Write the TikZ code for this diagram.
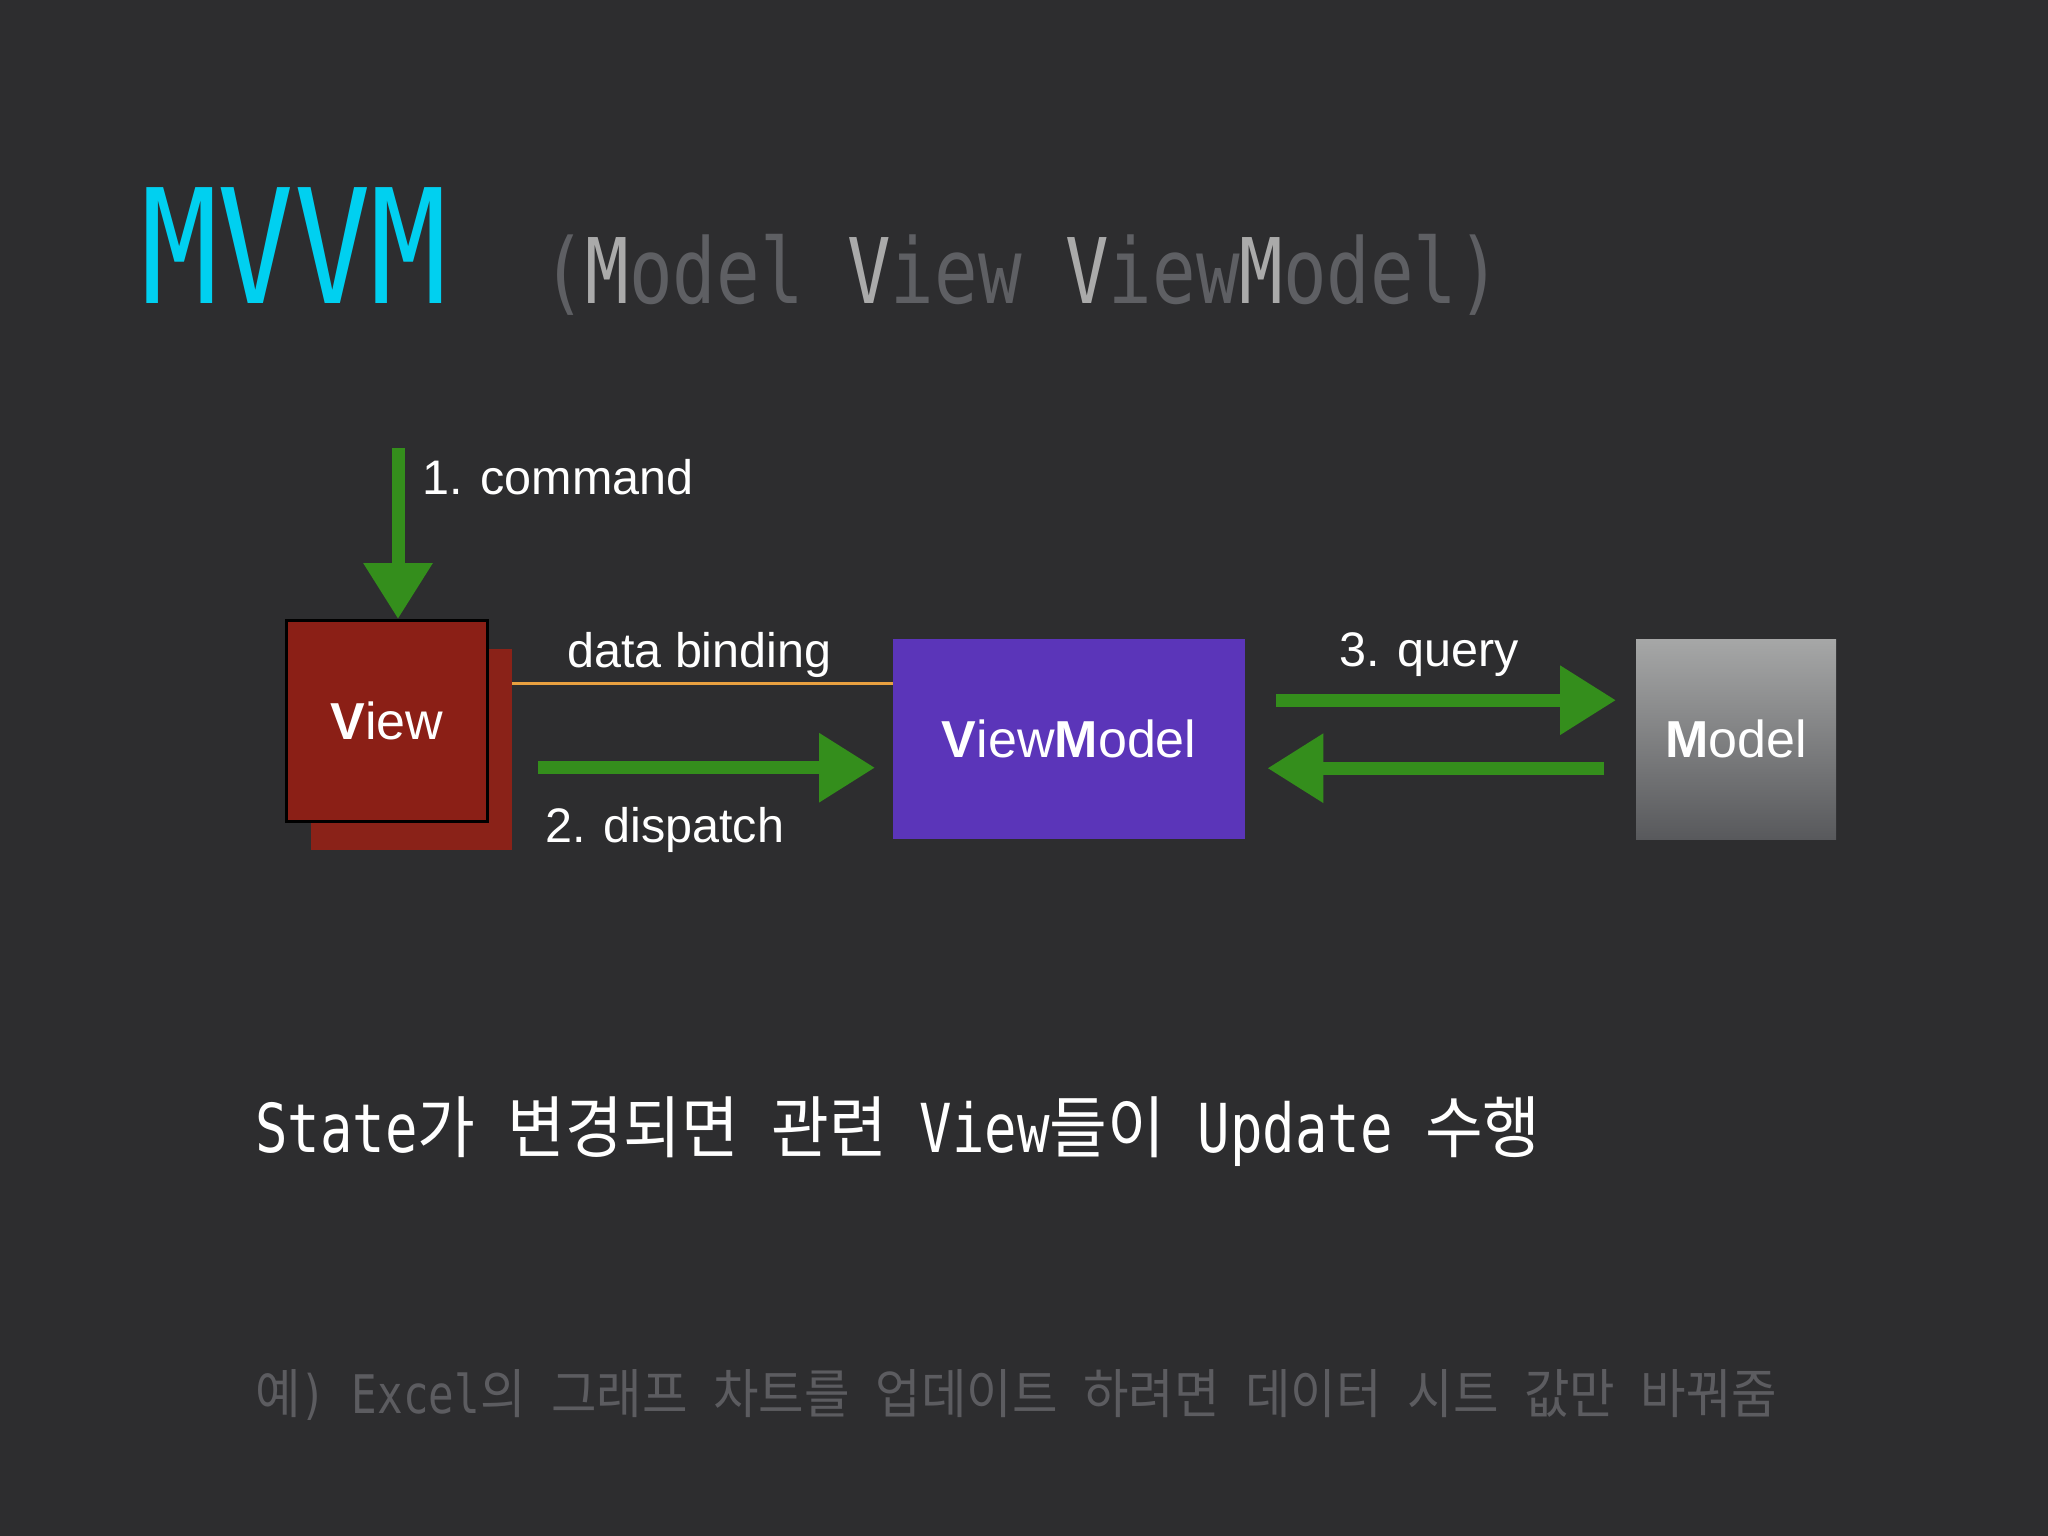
\documentclass[tikz,border=0pt]{standalone}
\usepackage{fontspec}
\setmainfont{Liberation Sans}
\newfontfamily\monof[FakeStretch=0.8]{DejaVu Sans Mono}
\newfontfamily\krf[FakeStretch=0.93]{Noto Sans CJK KR}
\newcommand{\K}[1]{{\krf #1}}
\newcommand{\Lt}[1]{\textcolor{titlelight}{#1}}
\usetikzlibrary{arrows.meta}
\definecolor{bgc}{RGB}{45,45,47}
\definecolor{cyanc}{RGB}{0,208,240}
\definecolor{titlelight}{RGB}{170,170,170}
\definecolor{titledark}{RGB}{94,95,99}
\definecolor{viewred}{RGB}{139,31,22}
\definecolor{viewredb}{RGB}{138,34,24}
\definecolor{vmpurple}{RGB}{91,53,185}
\definecolor{mtop}{RGB}{166,167,167}
\definecolor{mbot}{RGB}{88,89,92}
\definecolor{orangec}{RGB}{232,160,64}
\definecolor{grn}{RGB}{52,142,28}
\definecolor{notegray}{RGB}{92,92,96}
\tikzset{
  boxnode/.style={rectangle, inner sep=0pt, text=white, font=\fontsize{52}{52}\selectfont},
  lbl/.style={anchor=base west, inner sep=0pt, text=white, font=\fontsize{48.5}{48.5}\selectfont},
  greenarrow/.style={draw=grn, line width=13pt, -{Triangle[length=56pt,width=66pt]}},
  bindline/.style={draw=orangec, line width=3.5pt},
}
\begin{document}
\begin{tikzpicture}[x=1pt,y=-1pt]
\fill[bgc] (0,0) rectangle (2048,1536);
\useasboundingbox (0,0) rectangle (2048,1536);

% title
\node[anchor=base west, inner sep=0pt, text=cyanc] (title) at (141,303)
  {\fontsize{159}{159}\selectfont\monof MVVM};
\node[anchor=base west, inner sep=0pt, text=titledark] (subtitle) at (542,303)
  {\fontsize{90.5}{90.5}\selectfont\monof (\Lt{M}odel \Lt{V}iew \Lt{V}iew\Lt{M}odel)};

% boxes
\node[boxnode, fill=viewredb, minimum width=201pt, minimum height=201pt, anchor=north west] (viewb) at (311,649) {};
\node[boxnode, fill=viewred, draw=black, line width=2.5pt, minimum width=201pt, minimum height=201pt, anchor=north west] (view) at (285,619) {\textbf{V}iew};
\node[boxnode, fill=vmpurple, minimum width=352pt, minimum height=200pt, anchor=north west] (vm) at (893,639) {\textbf{V}iew\textbf{M}odel};
\node[boxnode, top color=mtop, bottom color=mbot, minimum width=200pt, minimum height=200pt, anchor=north west] (model) at (1636,639) {\textbf{M}odel};

% connectors
\coordinate (cmdstart) at (398,448);
\draw[greenarrow] (cmdstart) -- (cmdstart |- view.north);
\draw[bindline] ([yshift=66pt]viewb.east) -- ([yshift=66pt]viewb.east -| vm.west);
\draw[greenarrow] ([xshift=26pt,yshift=-18pt]viewb.east) -- ([xshift=-18pt,yshift=-18pt]viewb.east -| vm.west);
\draw[greenarrow] ([xshift=31pt,yshift=39pt]vm.east) -- ([xshift=-20pt,yshift=39pt]vm.east -| model.west);
\draw[greenarrow] ([xshift=-32pt,yshift=-29pt]model.west) -- ([xshift=22pt,yshift=-29pt]model.west -| vm.east);

% labels
\node[lbl] (lcmd) at (422,494) {1. command};
\node[lbl] (lbind) at (567,667) {data binding};
\node[lbl] (ldisp) at (545,842) {2. dispatch};
\node[lbl] (lquery) at (1339,666) {3. query};

% bottom text
\node[anchor=base west, inner sep=0pt, text=white] (state) at (255,1152)
  {\fontsize{67.5}{67.5}\selectfont\monof State\K{가} \K{변경되면} \K{관련} View\K{들이} Update \K{수행}};
\node[anchor=base west, inner sep=0pt, text=notegray] (note) at (255,1413)
  {\fontsize{53.2}{53.2}\selectfont\monof \K{예}) Excel\K{의} \K{그래프} \K{차트를} \K{업데이트} \K{하려면} \K{데이터} \K{시트} \K{값만} \K{바꿔줌}};
\end{tikzpicture}
\end{document}
